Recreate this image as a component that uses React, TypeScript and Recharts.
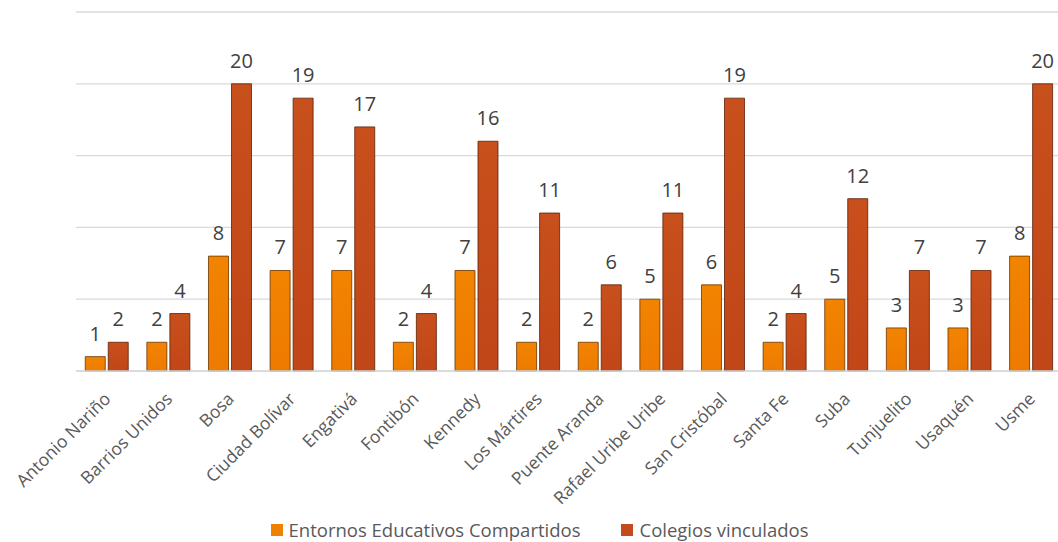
import { BarChart, Bar, XAxis, YAxis, CartesianGrid, Legend, LabelList } from 'recharts';

const localidades = [
  'Antonio Nariño', 'Barrios Unidos', 'Bosa', 'Ciudad Bolívar', 'Engativá', 'Fontibón', 'Kennedy', 'Los Mártires',
  'Puente Aranda', 'Rafael Uribe Uribe', 'San Cristóbal', 'Santa Fe', 'Suba', 'Tunjuelito', 'Usaquén', 'Usme',
];
const entornos = [1, 2, 8, 7, 7, 2, 7, 2, 2, 5, 6, 2, 5, 3, 3, 8];
const colegios = [2, 4, 20, 19, 17, 4, 16, 11, 6, 11, 19, 4, 12, 7, 7, 20];
const yTicks = [0, 5, 10, 15, 20, 25];

const data = localidades.map((name, i) => ({ name, entornos: entornos[i], colegios: colegios[i] }));

const FONT = '"Open Sans", sans-serif';

const AngledTick = ({ x, y, payload }: any) => (
  <text
    x={x + 5}
    y={y + 21}
    transform={`rotate(-45, ${x + 5}, ${y + 21})`}
    textAnchor="end"
    fill="#595959"
    fontSize={17.5}
    fontFamily={FONT}
  >
    {payload.value}
  </text>
);

const LegendBox = () => (
  <div
    style={{
      display: 'flex',
      justifyContent: 'center',
      fontFamily: FONT,
      fontSize: 18.5,
      color: '#595959',
      gap: 41,
      height: 41,
      paddingTop: 16,
      boxSizing: 'border-box',
      lineHeight: '24px',
    }}
  >
    <span style={{ display: 'flex', alignItems: 'center' }}>
      <span style={{ width: 12, height: 12, background: '#F08000', marginRight: 6 }} />Entornos Educativos Compartidos
    </span>
    <span style={{ display: 'flex', alignItems: 'center' }}>
      <span style={{ width: 12, height: 12, background: '#C44B1B', marginRight: 6 }} />Colegios vinculados
    </span>
  </div>
);

export default function App() {
  return (
    <div style={{ position: 'fixed', left: 0, top: 0, width: 1058, height: 542, overflow: 'hidden', background: '#fff' }}>
      <BarChart
        width={1070}
        height={542}
        data={data}
        margin={{ top: 12, right: 8, left: 76, bottom: 0 }}
        barCategoryGap="15%"
        barGap={3}
      >
        <defs>
          <linearGradient id="gOrange" x1="0" y1="0" x2="0" y2="1">
            <stop offset="0%" stopColor="#F28400" />
            <stop offset="100%" stopColor="#EE7B00" />
          </linearGradient>
          <linearGradient id="gRed" x1="0" y1="0" x2="0" y2="1">
            <stop offset="0%" stopColor="#C8501C" />
            <stop offset="100%" stopColor="#C14618" />
          </linearGradient>
        </defs>
        <CartesianGrid vertical={false} stroke="#d9d9d9" strokeWidth={1.3} />
        <XAxis
          dataKey="name"
          interval={0}
          tickLine={false}
          axisLine={{ stroke: '#d9d9d9', strokeWidth: 1.3 }}
          tick={<AngledTick />}
          height={130}
        />
        <YAxis hide domain={[0, 25]} ticks={yTicks} />
        <Legend verticalAlign="bottom" height={41} content={<LegendBox />} wrapperStyle={{ left: 0, width: 1079 }} />
        <Bar dataKey="entornos" fill="url(#gOrange)" stroke="#6b3500" strokeWidth={0.8} isAnimationActive={false}>
          <LabelList dataKey="entornos" position="top" offset={16} fill="#404040" fontSize={20} fontFamily={FONT} />
        </Bar>
        <Bar dataKey="colegios" fill="url(#gRed)" stroke="#5a2008" strokeWidth={0.8} isAnimationActive={false}>
          <LabelList dataKey="colegios" position="top" offset={16} fill="#404040" fontSize={20} fontFamily={FONT} />
        </Bar>
      </BarChart>
    </div>
  );
}
